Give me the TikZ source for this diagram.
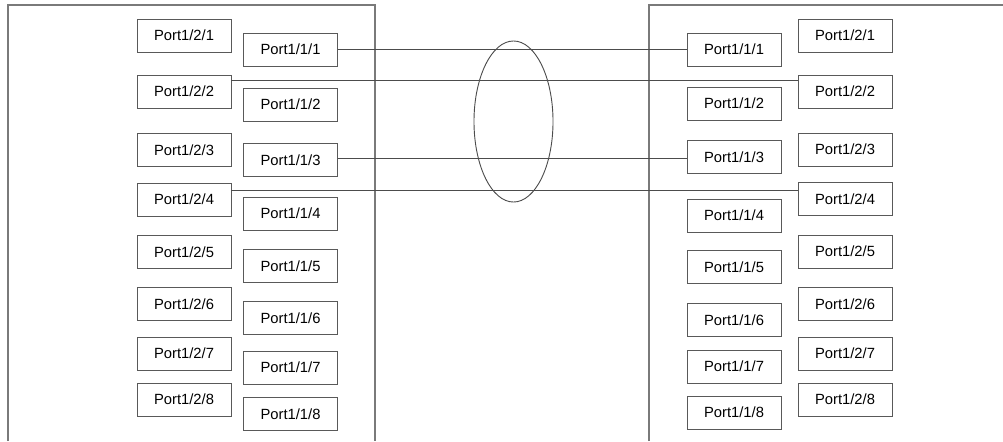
\documentclass[tikz,border=0pt]{standalone}
\usepackage{fontspec}
\setmainfont{Liberation Sans}
\usepackage{xcolor}
\usetikzlibrary{positioning,calc,shapes.geometric}

\definecolor{boxgray}{gray}{0.35}
\definecolor{framegray}{gray}{0.48}
\definecolor{linegray}{gray}{0.3}

\tikzset{
  port/.style={draw=boxgray, line width=0.6pt, minimum width=2.35cm,
               minimum height=0.825cm, inner sep=0pt, outer sep=0pt,
               font=\fontsize{10.5}{12}\selectfont, text=black},
  frame/.style={draw=framegray, line width=0.9pt},
  link/.style={draw=linegray, line width=0.65pt}
}

\begin{document}
\begin{tikzpicture}[x=0.025cm, y=-0.025cm]
  \useasboundingbox (0,0) rectangle (1003,441);

  % Switch frames
  \draw[frame] (8,441) -- (8,5) -- (375,5) -- (375,441);
  \draw[frame] (649,441) -- (649,5) -- (1003,5);

  % Left switch ports
  \foreach \n/\ya/\yb in {1/35.5/49.5, 2/91.5/104.5, 3/150/160, 4/199.5/213.5,
                          5/252/266, 6/304/318, 7/353.5/367.5, 8/399.5/414} {
    \node[port] (L2\n) at (184,\ya) {Port1/2/\n};
    \node[port] (L1\n) at (290.5,\yb) {Port1/1/\n};
  }

  % Right switch ports
  \foreach \n/\ya/\yb in {1/49.5/35.5, 2/103.5/91.5, 3/157/149.5, 4/215.5/199,
                          5/267/251.5, 6/320/304, 7/366.5/353.5, 8/412.5/399.5} {
    \node[port] (R1\n) at (734,\ya) {Port1/1/\n};
    \node[port] (R2\n) at (845,\yb) {Port1/2/\n};
  }

  % Trunk group
  \node[draw=linegray, line width=0.65pt, ellipse, minimum width=1.975cm,
        minimum height=4.025cm, inner sep=0pt] (trunk) at (513.5,121.5) {};

  % Links
  \draw[link] (L11.east) -- (L11.east -| R11.west);
  \coordinate (a2) at ($(L22.north east)+(0,5)$);
  \draw[link] (a2) -- (a2 -| R22.west);
  \coordinate (a3) at ($(L13.east)+(0,-2)$);
  \draw[link] (a3) -- (a3 -| R13.west);
  \coordinate (a4) at ($(L24.north east)+(0,7.5)$);
  \draw[link] (a4) -- (a4 -| R24.west);
\end{tikzpicture}
\end{document}
